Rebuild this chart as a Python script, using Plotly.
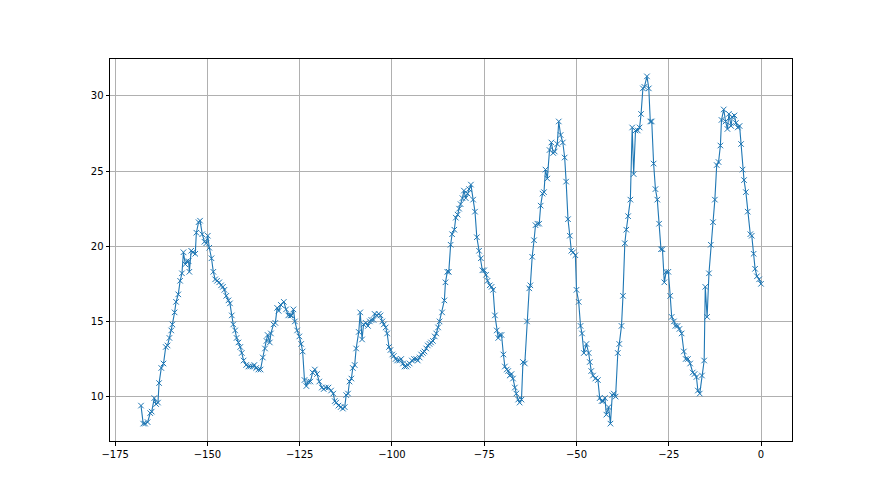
import plotly.graph_objects as go

# Hours relative to now
hours = [
    -168.0, -167.4, -166.9, -166.2, -165.5, -165.1, -164.4, -163.9, -163.4, -163.1,
    -162.5, -161.9, -161.3, -160.8, -160.3, -159.8, -159.5, -158.9, -158.5, -157.9,
    -157.4, -156.9, -156.5, -156.0, -155.6, -155.1, -154.9, -154.4, -153.9, -153.3,
    -153.0, -152.4, -152.0, -151.4, -150.8, -150.3, -149.9, -149.5, -148.9, -148.4,
    -147.9, -147.4, -146.8, -146.3, -145.8, -145.4, -144.9, -144.3, -143.9, -143.4,
    -143.0, -142.5, -142.1, -141.6, -141.1,
    -140.7, -140.2, -139.5, -138.9, -138.4, -137.7, -137.3, -136.8, -136.2, -135.6,
    -135.0, -134.4, -134.0, -133.7, -133.1, -132.8, -132.1, -131.6, -131.1, -130.7,
    -130.1, -129.3, -128.7, -128.1, -127.5, -127.2, -126.7, -126.3, -125.7, -125.1,
    -124.6, -124.2, -123.7, -123.2, -122.7, -122.1, -121.5, -120.9, -120.3, -119.7,
    -119.0, -118.5, -117.9, -117.2, -116.5, -115.9, -115.5, -115.1, -114.5,
    -113.9, -113.3, -112.8, -112.4, -111.9, -111.5, -111.0, -110.6, -110.1, -109.7,
    -109.0, -108.6, -108.1, -107.7, -107.1, -106.5, -106.0, -105.6, -105.0, -104.7,
    -104.1, -103.6, -103.1, -102.6, -102.2, -101.7, -101.3, -100.8, -100.4, -99.9,
    -99.5, -99.0, -98.6, -98.0, -97.5, -97.0, -96.6, -96.1, -95.7, -95.2,
    -94.6, -94.0, -93.4, -93.0, -92.5, -92.1, -91.6, -91.2, -90.7, -90.3,
    -89.8, -89.4, -88.9, -88.4, -88.0, -87.5, -87.1,
    -86.4, -85.8, -85.5, -85.0, -84.6, -84.1, -83.7, -83.1, -82.7, -82.2,
    -81.8, -81.4, -80.9, -80.5, -80.0, -79.5, -79.1, -78.6, -78.0, -77.5,
    -77.0, -76.4, -75.9, -75.5, -75.0, -74.5, -74.1, -73.5, -73.0, -72.6,
    -72.1, -71.6, -71.2, -70.8, -70.3, -69.8, -69.4, -68.9, -68.5, -68.1,
    -67.6, -67.2, -66.7, -66.3, -65.8, -65.4, -64.9, -64.5, -64.0, -63.4,
    -62.8, -62.5, -62.0, -61.5, -61.1, -60.6, -60.1, -59.7, -59.2,
    -58.8, -58.4, -57.9, -57.3, -56.8, -56.3, -55.9, -55.2, -54.8, -54.3,
    -53.7, -53.2, -52.8, -52.3, -51.8, -51.4, -50.9, -50.3, -50.0, -49.4,
    -48.9, -48.5, -48.0, -47.3, -46.7, -46.4, -46.0, -45.5, -44.9, -44.2,
    -43.7, -43.2, -42.8, -42.3, -41.9, -41.3, -40.8, -40.3, -39.9, -39.4,
    -38.8, -38.4, -37.8, -37.4, -36.9, -36.5, -36.0, -35.4, -34.9, -34.5,
    -34.0, -33.4, -32.9, -32.5, -32.0, -31.6, -30.9, -30.4, -30.0,
    -29.6, -29.1, -28.6, -28.1, -27.6, -27.1, -26.7, -26.2, -25.7, -25.1,
    -24.6, -24.2, -23.6, -23.2, -22.6, -22.1, -21.5, -20.9, -20.4, -19.8,
    -19.2, -18.5, -18.0, -17.5, -17.1, -16.6, -16.0, -15.4, -15.1, -14.6,
    -14.1, -13.6, -13.0, -12.5, -12.0, -11.5, -11.0, -10.7, -10.1, -9.6,
    -9.1, -8.7, -8.1, -7.8, -7.2, -6.8, -6.3, -5.8, -5.4, -5.0,
    -4.6, -4.1, -3.6, -2.9, -2.5, -2.0, -1.6, -1.1, -0.5, 0.0,
]

values = [
    9.4, 8.2, 8.2, 8.3, 8.9, 9.0, 9.9, 9.5, 9.6, 10.9,
    11.9, 12.2, 13.3, 13.4, 13.9, 14.4, 14.8, 15.6, 16.3, 16.8,
    17.7, 18.2, 19.6, 18.8, 19.0, 19.0, 18.3, 19.7, 19.6, 19.5,
    20.9, 21.6, 21.7, 20.8, 20.3, 20.2, 20.7, 19.9, 19.2, 18.3,
    17.8, 17.7, 17.6, 17.4, 17.3, 17.1, 16.7, 16.4, 16.2, 15.4,
    14.8, 14.4, 13.9, 13.6, 13.3,
    12.9, 12.4, 12.1, 12.0, 12.0, 12.0, 12.1, 11.9, 11.8, 11.8,
    12.6, 13.2, 13.7, 14.1, 13.6, 14.2, 14.8, 14.9, 15.9, 15.7,
    16.1, 16.3, 15.8, 15.4, 15.4, 15.4, 15.8, 15.0, 14.4, 14.0,
    13.5, 13.0, 11.1, 10.7, 11.0, 11.0, 11.6, 11.8, 11.5, 11.0,
    10.6, 10.5, 10.6, 10.6, 10.4, 10.2, 9.7, 9.6, 9.4,
    9.3, 9.2, 9.3, 10.1, 10.2, 11.0, 11.2, 11.9, 12.1, 13.2,
    14.3, 15.6, 13.8, 14.8, 14.9, 14.7, 15.0, 15.1, 15.1, 15.5,
    15.4, 15.5, 15.4, 15.0, 14.8, 14.6, 14.2, 13.3, 13.1, 12.8,
    12.7, 12.5, 12.4, 12.4, 12.5, 12.2, 12.0, 12.0, 12.1, 12.2,
    12.4, 12.5, 12.5, 12.4, 12.6, 12.8, 12.9, 13.0, 13.2, 13.4,
    13.5, 13.6, 13.7, 14.0, 14.2, 14.6, 15.0,
    15.6, 16.4, 17.6, 18.3, 18.3, 20.1, 20.8, 21.1, 21.9, 22.1,
    22.5, 22.8, 23.2, 23.7, 23.2, 23.5, 23.8, 24.1, 23.1, 22.3,
    20.6, 19.7, 19.2, 18.4, 18.4, 18.1, 17.7, 17.4, 17.3, 17.1,
    15.4, 14.4, 13.9, 14.1, 14.1, 12.8, 12.0, 11.8, 11.7, 11.4,
    11.5, 11.2, 10.6, 10.2, 9.8, 9.6, 9.8, 12.3, 12.2, 15.0,
    17.2, 17.4, 19.3, 20.4, 21.4, 21.5, 21.5, 22.7, 23.5,
    23.6, 25.1, 24.5, 26.4, 26.9, 26.2, 26.3, 26.8, 28.3, 27.4,
    26.9, 25.9, 24.3, 21.8, 20.7, 19.7, 19.6, 19.4, 17.1, 16.3,
    14.7, 14.2, 12.9, 13.5, 12.9, 12.3, 11.7, 11.4, 11.2, 11.1,
    9.9, 9.7, 9.7, 9.9, 8.8, 9.3, 8.2, 10.1, 10.2, 10.0,
    12.9, 13.5, 14.7, 16.7, 20.2, 21.1, 22.0, 23.1, 27.9, 24.8,
    27.7, 27.7, 27.9, 28.8, 30.5, 30.6, 31.3, 30.5, 28.3,
    28.3, 25.5, 23.8, 23.1, 21.5, 19.8, 19.8, 17.6, 18.3, 18.3,
    16.7, 15.3, 15.0, 14.7, 14.7, 14.5, 14.2, 13.0, 12.5, 12.5,
    12.2, 11.6, 11.5, 11.3, 10.4, 10.2, 11.4, 12.4, 17.3, 15.3,
    18.2, 20.1, 21.6, 23.1, 25.4, 25.6, 26.7, 28.4, 29.1, 28.3,
    27.8, 28.8, 28.0, 28.6, 28.7, 28.2, 27.9, 28.0, 26.8, 25.1,
    24.4, 23.6, 22.3, 20.8, 20.7, 19.5, 18.5, 18.0, 17.8, 17.5,
]

x_ticks = [-175, -150, -125, -100, -75, -50, -25, 0]
x_tick_labels = ["\u2212175", "\u2212150", "\u2212125", "\u2212100", "\u221275", "\u221250", "\u221225", "0"]
y_ticks = [10, 15, 20, 25, 30]
y_tick_labels = ["10", "15", "20", "25", "30"]

color = "#1f77b4"

fig = go.Figure()
fig.add_trace(go.Scatter(
    x=hours, y=values, mode="lines+markers",
    line=dict(color=color, width=1.1),
    marker=dict(symbol="x-thin", size=5.5, line=dict(color=color, width=1), color=color),
    showlegend=False,
))

xmin, xmax = min(hours), max(hours)
ymin, ymax = min(values), max(values)
xpad = (xmax - xmin) * 0.05
ypad = (ymax - ymin) * 0.05

axis_common = dict(
    showline=True, mirror=True, linecolor="black", linewidth=1,
    showgrid=True, gridcolor="#b0b0b0", gridwidth=0.8,
    zeroline=False, ticks="outside", ticklen=3.5, tickwidth=0.8, tickcolor="black",
    tickfont=dict(family="DejaVu Sans", size=10, color="black"),
)

fig.update_xaxes(range=[xmin - xpad, xmax + xpad], tickvals=x_ticks, ticktext=x_tick_labels, **axis_common)
fig.update_yaxes(range=[ymin - ypad, ymax + ypad], tickvals=y_ticks, ticktext=y_tick_labels, **axis_common)

# The page body has an 8px default margin, so the figure is sized to fit the window
fig.update_layout(
    width=872, height=487,
    margin=dict(l=102, r=88, t=51, b=54),
    paper_bgcolor="white", plot_bgcolor="white",
    font=dict(family="DejaVu Sans", size=10, color="black"),
)

fig.write_html("out.html")
